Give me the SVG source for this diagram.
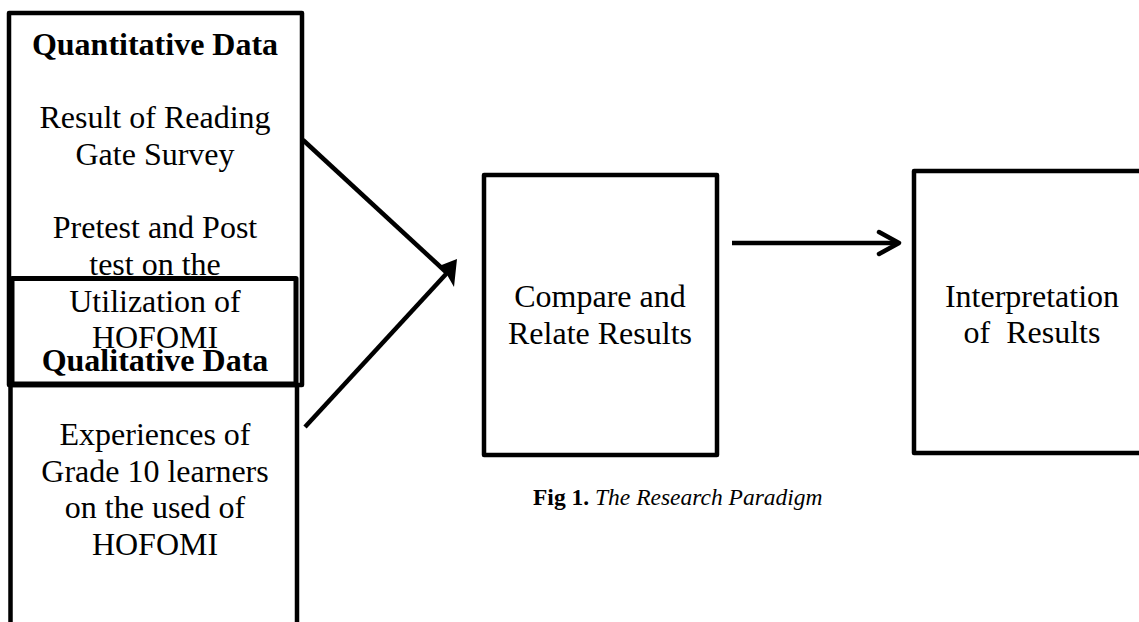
<svg xmlns="http://www.w3.org/2000/svg" width="1139" height="622" viewBox="0 0 1139 622">
<style>
.box{fill:none;stroke:#000;stroke-width:4.5;stroke-linejoin:round}
.t{font-family:"Liberation Serif","Times New Roman",serif;font-size:32px;fill:#000;text-anchor:middle}
.b{font-weight:bold}
.cap{font-family:"Liberation Serif","Times New Roman",serif;font-size:23.5px;fill:#000}
.ln{stroke:#000;stroke-width:4.5;fill:none}
</style>
<rect width="1139" height="622" fill="#fff"/>
<g id="quantitative">
<rect class="box" x="9" y="13" width="293" height="372"/>
<text class="t b" x="155" y="55">Quantitative Data</text>
<text class="t" x="155" y="128">Result of Reading</text>
<text class="t" x="155" y="165">Gate Survey</text>
<text class="t" x="155" y="238">Pretest and Post</text>
<text class="t" x="155" y="275">test on the</text>
<text class="t" x="155" y="312">Utilization of</text>
<text class="t" x="155" y="348">HOFOMI</text>
</g>
<g id="qualitative">
<rect class="box" x="10.5" y="385" width="286.5" height="260"/>
<rect class="box" x="12" y="278.5" width="284" height="105.5" style="stroke-width:5"/>
<text class="t b" x="155" y="371">Qualitative Data</text>
<text class="t" x="155" y="445">Experiences of</text>
<text class="t" x="155" y="482">Grade 10 learners</text>
<text class="t" x="155" y="518">on the used of</text>
<text class="t" x="155" y="555">HOFOMI</text>
</g>
<g id="connectors">
<line class="ln" x1="303" y1="140" x2="446" y2="272"/>
<line class="ln" x1="305" y1="427" x2="447" y2="273"/>
<polygon points="457,259 439,266 446,273 454,287" fill="#000"/>
<line class="ln" x1="732" y1="243" x2="898" y2="243"/>
<polyline class="ln" points="879,232 899,243 879,254" stroke-linecap="round" stroke-linejoin="round"/>
</g>
<g id="compare">
<rect class="box" x="484" y="175" width="233" height="280"/>
<text class="t" x="600" y="307">Compare and</text>
<text class="t" x="600" y="344">Relate Results</text>
</g>
<g id="interpretation">
<rect class="box" x="914" y="171" width="240" height="282"/>
<text class="t" x="1032" y="307">Interpretation</text>
<text class="t" x="1032" y="343" xml:space="preserve">of  Results</text>
</g>
<g id="caption">
<text class="cap" x="533" y="505"><tspan font-weight="bold">Fig 1.</tspan> <tspan font-style="italic">The Research Paradigm</tspan></text>
</g>
</svg>
